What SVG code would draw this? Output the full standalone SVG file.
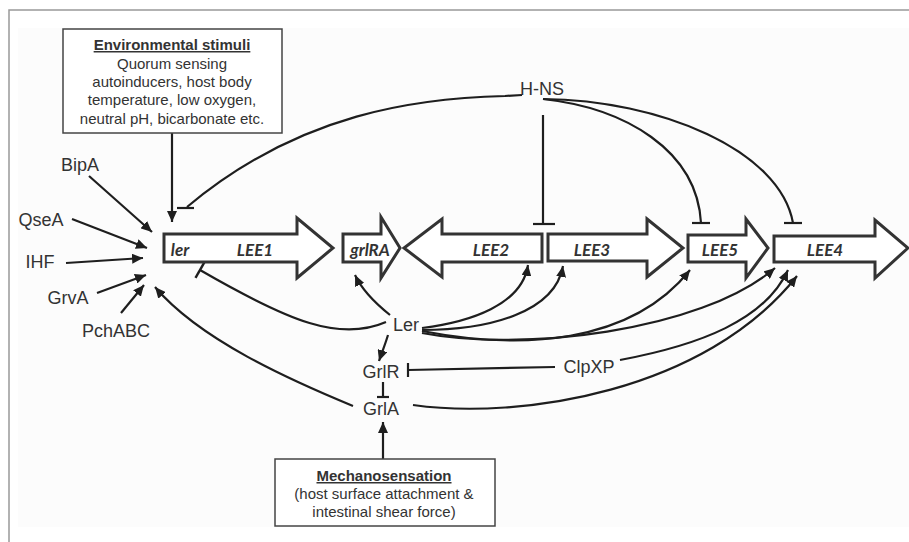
<svg xmlns="http://www.w3.org/2000/svg" width="909" height="542" viewBox="0 0 909 542">
<defs>
<style>
.lbl{font-family:"Liberation Sans",Arial,sans-serif;font-size:18px;fill:#333;text-anchor:middle}
.box{fill:#fff;stroke:#444;stroke-width:1.5}
.btxt{font-family:"Liberation Sans",Arial,sans-serif;font-size:15px;fill:#333;text-anchor:middle}
.btitle{font-weight:bold;text-decoration:underline}
.gene{fill:#fff;stroke:#333;stroke-width:3;stroke-linejoin:miter}
.gtxt{font-family:Lato,"Open Sans",sans-serif;font-size:17px;font-weight:bold;font-style:italic;fill:#333;text-anchor:middle}
.c{fill:none;stroke:#1e1e1e;stroke-width:2.2}
.act{marker-end:url(#arr)}
.inh{marker-end:url(#bar)}
</style>
<marker id="arr" markerUnits="userSpaceOnUse" markerWidth="12" markerHeight="10" refX="11" refY="5" orient="auto">
<path d="M0,0 L11,5 L0,10 Z" fill="#1e1e1e"/>
</marker>
<marker id="bar" markerUnits="userSpaceOnUse" markerWidth="4" markerHeight="20" refX="2" refY="10" orient="auto">
<path d="M2,1 V19" stroke="#1e1e1e" stroke-width="2.4"/>
</marker>
</defs>
<rect x="0" y="0" width="909" height="542" fill="#fff"/>
<rect x="18" y="28" width="891" height="499" fill="#fcfcfc"/>
<path d="M9,542 V10 H909" fill="none" stroke="#999" stroke-width="1.5"/>

<g id="connectors">
<path class="c act" d="M172,133 V222"/>
<path class="c act" d="M89,176 L152,232"/>
<path class="c act" d="M72,219 L147,248"/>
<path class="c act" d="M66,263 L143,258"/>
<path class="c act" d="M97,293 L146,275"/>
<path class="c act" d="M121,313 L144,285"/>
<path class="c" d="M522,95 L505,96 C420,98 300,112 187,207"/>
<path class="c" d="M177,208 H194"/>
<path class="c" d="M543,115 V224"/>
<path class="c" d="M533,224 H555"/>
<path class="c" d="M543,99 C625,108 697,150 701,223"/>
<path class="c" d="M692,223 H710"/>
<path class="c" d="M543,99 C660,100 780,150 793,223"/>
<path class="c" d="M784,223 H802"/>
<path class="c inh" d="M386,322 C340,342 290,322 200,270"/>
<path class="c act" d="M390,315 C375,303 362,290 355,275"/>
<path class="c act" d="M388,335 C385,345 382,352 379,361"/>
<path class="c act" d="M422,328 C470,322 522,305 528,265"/>
<path class="c act" d="M422,330 C490,330 555,312 563,266"/>
<path class="c act" d="M422,331 C520,350 630,345 690,270"/>
<path class="c act" d="M422,333 C520,352 700,332 775,268"/>
<path class="c act" d="M620,360 C700,345 765,320 788,270"/>
<path class="c act" d="M413,405 C520,420 705,392 797,276"/>
<path class="c act" d="M353,406 C290,380 200,340 155,287"/>
<path class="c" d="M555,367 L408,370"/>
<path class="c" d="M408,363 V377"/>
<path class="c" d="M383,382 V397"/>
<path class="c" d="M377,397 H389"/>
<path class="c act" d="M383,459 V422"/>
</g>

<g id="env-stimuli">
<rect class="box" x="63" y="29" width="219" height="104"/>
<text class="btxt btitle" x="172" y="50">Environmental stimuli</text>
<text class="btxt" x="172" y="69">Quorum sensing</text>
<text class="btxt" x="172" y="87">autoinducers, host body</text>
<text class="btxt" x="172" y="105">temperature, low oxygen,</text>
<text class="btxt" x="172" y="124">neutral pH, bicarbonate etc.</text>
</g>

<g id="mechanosensation">
<rect class="box" x="275" y="459" width="220" height="67"/>
<text class="btxt btitle" x="384" y="481">Mechanosensation</text>
<text class="btxt" x="384" y="499">(host surface attachment &amp;</text>
<text class="btxt" x="384" y="517">intestinal shear force)</text>
</g>

<g id="BipA"><text class="lbl" x="80" y="171">BipA</text></g>
<g id="QseA"><text class="lbl" x="41" y="226">QseA</text></g>
<g id="IHF"><text class="lbl" x="40" y="268">IHF</text></g>
<g id="GrvA"><text class="lbl" x="68" y="304">GrvA</text></g>
<g id="PchABC"><text class="lbl" x="116" y="337">PchABC</text></g>
<g id="H-NS"><text class="lbl" x="542" y="95">H-NS</text></g>
<g id="Ler"><text class="lbl" x="406" y="331">Ler</text></g>
<g id="GrlR"><text class="lbl" x="381" y="378">GrlR</text></g>
<g id="ClpXP"><text class="lbl" x="589" y="373">ClpXP</text></g>
<g id="GrlA"><text class="lbl" x="381" y="415">GrlA</text></g>

<g id="LEE1">
<path class="gene" d="M164,234 H297 V218 L333,248 L297,278 V262 H164 Z"/>
<text class="gtxt" x="180" y="256">ler</text>
<text class="gtxt" x="255" y="256">LEE1</text>
</g>
<g id="grlRA">
<path class="gene" d="M343,234 H381 V217 L400,248 L381,278 V262 H343 Z"/>
<text class="gtxt" x="370" y="256">grlRA</text>
</g>
<g id="LEE2">
<path class="gene" d="M542,234 H442 V219 L404,248 L442,277 V262 H542 Z"/>
<text class="gtxt" x="491" y="256">LEE2</text>
</g>
<g id="LEE3">
<path class="gene" d="M548,234 H647 V219 L683,248 L647,277 V261 H548 Z"/>
<text class="gtxt" x="592" y="256">LEE3</text>
</g>
<g id="LEE5">
<path class="gene" d="M688,235 H746 V219 L768,248 L746,278 V262 H688 Z"/>
<text class="gtxt" x="720" y="256">LEE5</text>
</g>
<g id="LEE4">
<path class="gene" d="M774,236 H875 V220 L908,248 L875,278 V262 H774 Z"/>
<text class="gtxt" x="825" y="256">LEE4</text>
</g>
</svg>
